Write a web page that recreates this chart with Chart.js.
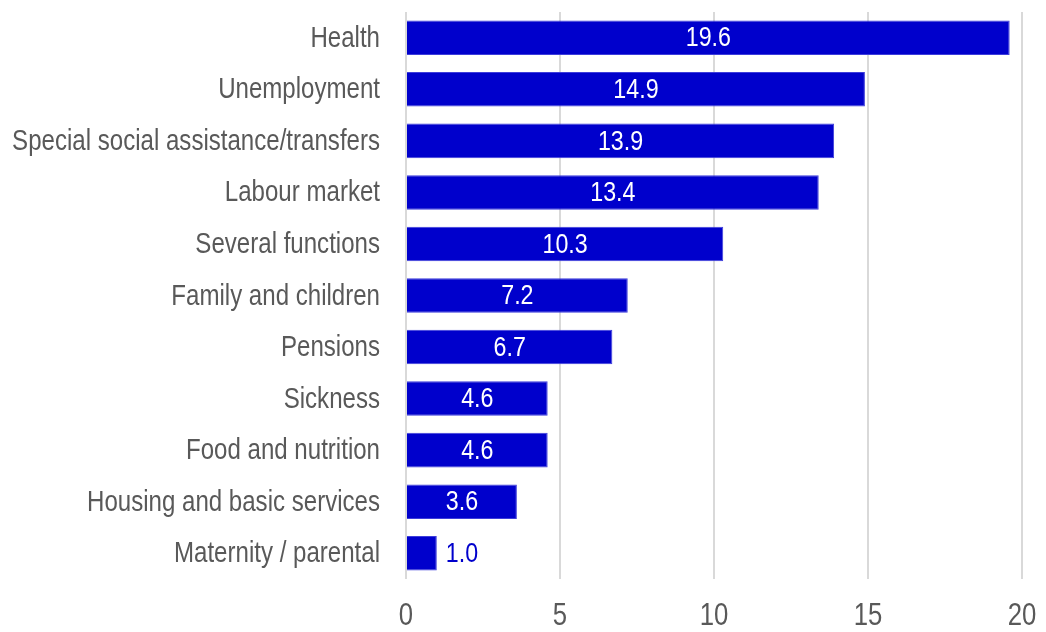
<!DOCTYPE html>
<html>
<head>
<meta charset="utf-8">
<script src="https://cdn.jsdelivr.net/npm/chart.js@4"></script>
<style>
html,body{margin:0;padding:0;background:#fff;}
</style>
</head>
<body>
<canvas id="c" width="1046" height="632"></canvas>
<script>
const categories = ["Health","Unemployment","Special social assistance/transfers","Labour market","Several functions","Family and children","Pensions","Sickness","Food and nutrition","Housing and basic services","Maternity / parental"];
const values = [19.6,14.9,13.9,13.4,10.3,7.2,6.7,4.6,4.6,3.6,1.0];
const xTicks = [0,5,10,15,20];

const FONT = "'Liberation Sans Narrow','Arial Narrow','Liberation Sans',Arial,sans-serif";
const SQUEEZE = 0.83;   // condensed look of the original typeface

function narrowText(ctx, txt, x, y, align){
  ctx.save();
  ctx.translate(x, y);
  ctx.scale(SQUEEZE, 1);
  ctx.textAlign = align;
  ctx.fillText(txt, 0, 0);
  ctx.restore();
}

const textPlugin = {
  id:'narrowTexts',
  afterDraw(chart){
    const ctx = chart.ctx;
    const xs = chart.scales.x, ys = chart.scales.y;
    ctx.save();
    ctx.textBaseline = 'middle';
    // category labels
    ctx.fillStyle = '#595959';
    ctx.font = "29px " + FONT;
    categories.forEach((c,i)=>{
      narrowText(ctx, c, chart.chartArea.left - 26, ys.getPixelForTick(i) + 1, 'right');
    });
    // x tick labels
    ctx.font = "31px " + FONT;
    xs.ticks.forEach((t)=>{
      narrowText(ctx, String(t.value), xs.getPixelForValue(t.value), chart.chartArea.bottom + 37, 'center');
    });
    // value labels
    const meta = chart.getDatasetMeta(0);
    ctx.font = "28px " + FONT;
    meta.data.forEach((bar,i)=>{
      const txt = values[i].toFixed(1);
      const w = ctx.measureText(txt).width * SQUEEZE;
      const barW = bar.x - bar.base;
      if (barW > w + 10) {
        ctx.fillStyle = '#ffffff';
        narrowText(ctx, txt, (bar.x + bar.base)/2, bar.y + 1, 'center');
      } else {
        ctx.fillStyle = '#0000cc';
        narrowText(ctx, txt, bar.x + 9, bar.y + 1, 'left');
      }
    });
    ctx.restore();
  }
};

new Chart(document.getElementById('c'), {
  type:'bar',
  data:{
    labels:categories,
    datasets:[{
      data:values,
      backgroundColor:'#0000cc',
      borderColor:'#3d3ddb',
      borderWidth:1,
      barPercentage:0.67,
      categoryPercentage:1.0
    }]
  },
  options:{
    indexAxis:'y',
    responsive:false,
    animation:false,
    devicePixelRatio:1,
    layout:{padding:{left:0,right:24,top:12,bottom:0}},
    plugins:{legend:{display:false},tooltip:{enabled:false}},
    scales:{
      x:{
        min:0,max:20,
        afterBuildTicks(axis){ axis.ticks = xTicks.map(v=>({value:v})); },
        afterFit(axis){ axis.height = 53; },
        grid:{color:'#d9d9d9',lineWidth:2,drawTicks:false},
        border:{display:false},
        ticks:{display:false}
      },
      y:{
        afterFit(axis){ axis.width = 406; },
        grid:{display:false,drawTicks:false},
        border:{display:false},
        ticks:{display:false}
      }
    }
  },
  plugins:[textPlugin]
});
</script>
</body>
</html>
